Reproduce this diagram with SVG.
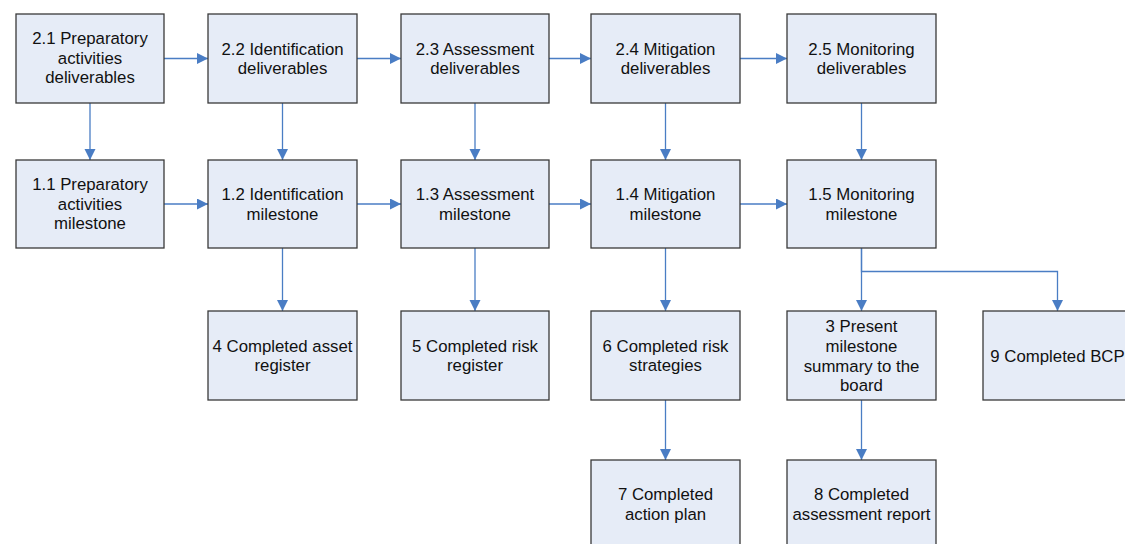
<svg xmlns="http://www.w3.org/2000/svg" width="1125" height="544" viewBox="0 0 1125 544">
  <style>
    .box { fill: #E6ECF7; stroke: #3A3A3A; stroke-width: 1.3; }
    .lbl { font-family: "Liberation Sans", Arial, sans-serif; font-size: 16.8px; fill: #111; text-anchor: middle; }
    .wire { fill: none; stroke: #4A7DC4; stroke-width: 1.3; }
  </style>
  <defs>
    <marker id="arrow" markerUnits="userSpaceOnUse" markerWidth="12" markerHeight="12" refX="11" refY="5.5" orient="auto">
      <path d="M0,0 L11,5.5 L0,11 Z" fill="#4A7DC4"/>
    </marker>
  </defs>
  <rect width="1125" height="544" fill="#FFFFFF"/>

  <!-- connectors -->
  <g id="connectors" class="wire" marker-end="url(#arrow)">
    <!-- row 1, left to right -->
    <line x1="164" y1="58.5" x2="208" y2="58.5"/>
    <line x1="357" y1="58.5" x2="401" y2="58.5"/>
    <line x1="549" y1="58.5" x2="591" y2="58.5"/>
    <line x1="740" y1="58.5" x2="787" y2="58.5"/>
    <!-- row 2, left to right -->
    <line x1="164" y1="204" x2="208" y2="204"/>
    <line x1="357" y1="204" x2="401" y2="204"/>
    <line x1="549" y1="204" x2="591" y2="204"/>
    <line x1="740" y1="204" x2="787" y2="204"/>
    <!-- deliverables down to milestones -->
    <line x1="90" y1="103" x2="90" y2="160"/>
    <line x1="282.5" y1="103" x2="282.5" y2="160"/>
    <line x1="475" y1="103" x2="475" y2="160"/>
    <line x1="665.5" y1="103" x2="665.5" y2="160"/>
    <line x1="861.5" y1="103" x2="861.5" y2="160"/>
    <!-- milestones down to outputs -->
    <line x1="282.5" y1="248" x2="282.5" y2="311"/>
    <line x1="475" y1="248" x2="475" y2="311"/>
    <line x1="665.5" y1="248" x2="665.5" y2="311"/>
    <line x1="861.5" y1="248" x2="861.5" y2="311"/>
    <polyline points="861.5,248 861.5,271.5 1057.5,271.5 1057.5,311"/>
    <!-- outputs down to final items -->
    <line x1="665.5" y1="400" x2="665.5" y2="460"/>
    <line x1="861.5" y1="400" x2="861.5" y2="460"/>
  </g>

  <!-- row 1: deliverables -->
  <g id="n2_1"><rect class="box" x="16" y="14" width="148" height="89"/>
    <text class="lbl"><tspan x="90" y="44">2.1 Preparatory</tspan><tspan x="90" y="63.5">activities</tspan><tspan x="90" y="83">deliverables</tspan></text></g>
  <g id="n2_2"><rect class="box" x="208" y="14" width="149" height="89"/>
    <text class="lbl"><tspan x="282.5" y="54.5">2.2 Identification</tspan><tspan x="282.5" y="74">deliverables</tspan></text></g>
  <g id="n2_3"><rect class="box" x="401" y="14" width="148" height="89"/>
    <text class="lbl"><tspan x="475" y="54.5">2.3 Assessment</tspan><tspan x="475" y="74">deliverables</tspan></text></g>
  <g id="n2_4"><rect class="box" x="591" y="14" width="149" height="89"/>
    <text class="lbl"><tspan x="665.5" y="54.5">2.4 Mitigation</tspan><tspan x="665.5" y="74">deliverables</tspan></text></g>
  <g id="n2_5"><rect class="box" x="787" y="14" width="149" height="89"/>
    <text class="lbl"><tspan x="861.5" y="54.5">2.5 Monitoring</tspan><tspan x="861.5" y="74">deliverables</tspan></text></g>

  <!-- row 2: milestones -->
  <g id="n1_1"><rect class="box" x="16" y="160" width="148" height="88"/>
    <text class="lbl"><tspan x="90" y="190">1.1 Preparatory</tspan><tspan x="90" y="209.5">activities</tspan><tspan x="90" y="229">milestone</tspan></text></g>
  <g id="n1_2"><rect class="box" x="208" y="160" width="149" height="88"/>
    <text class="lbl"><tspan x="282.5" y="200">1.2 Identification</tspan><tspan x="282.5" y="219.5">milestone</tspan></text></g>
  <g id="n1_3"><rect class="box" x="401" y="160" width="148" height="88"/>
    <text class="lbl"><tspan x="475" y="200">1.3 Assessment</tspan><tspan x="475" y="219.5">milestone</tspan></text></g>
  <g id="n1_4"><rect class="box" x="591" y="160" width="149" height="88"/>
    <text class="lbl"><tspan x="665.5" y="200">1.4 Mitigation</tspan><tspan x="665.5" y="219.5">milestone</tspan></text></g>
  <g id="n1_5"><rect class="box" x="787" y="160" width="149" height="88"/>
    <text class="lbl"><tspan x="861.5" y="200">1.5 Monitoring</tspan><tspan x="861.5" y="219.5">milestone</tspan></text></g>

  <!-- row 3: outputs -->
  <g id="n4"><rect class="box" x="208" y="311" width="149" height="89"/>
    <text class="lbl"><tspan x="282.5" y="351.5">4 Completed asset</tspan><tspan x="282.5" y="371">register</tspan></text></g>
  <g id="n5"><rect class="box" x="401" y="311" width="148" height="89"/>
    <text class="lbl"><tspan x="475" y="351.5">5 Completed risk</tspan><tspan x="475" y="371">register</tspan></text></g>
  <g id="n6"><rect class="box" x="591" y="311" width="149" height="89"/>
    <text class="lbl"><tspan x="665.5" y="351.5">6 Completed risk</tspan><tspan x="665.5" y="371">strategies</tspan></text></g>
  <g id="n3"><rect class="box" x="787" y="311" width="149" height="89"/>
    <text class="lbl"><tspan x="861.5" y="331.5">3 Present</tspan><tspan x="861.5" y="351.5">milestone</tspan><tspan x="861.5" y="371.5">summary to the</tspan><tspan x="861.5" y="391">board</tspan></text></g>
  <g id="n9"><rect class="box" x="983" y="311" width="149" height="89"/>
    <text class="lbl"><tspan x="1057.5" y="361.5">9 Completed BCP</tspan></text></g>

  <!-- row 4: final items -->
  <g id="n7"><rect class="box" x="591" y="460" width="149" height="89"/>
    <text class="lbl"><tspan x="665.5" y="500">7 Completed</tspan><tspan x="665.5" y="519.5">action plan</tspan></text></g>
  <g id="n8"><rect class="box" x="787" y="460" width="149" height="89"/>
    <text class="lbl"><tspan x="861.5" y="500">8 Completed</tspan><tspan x="861.5" y="519.5">assessment report</tspan></text></g>
</svg>
